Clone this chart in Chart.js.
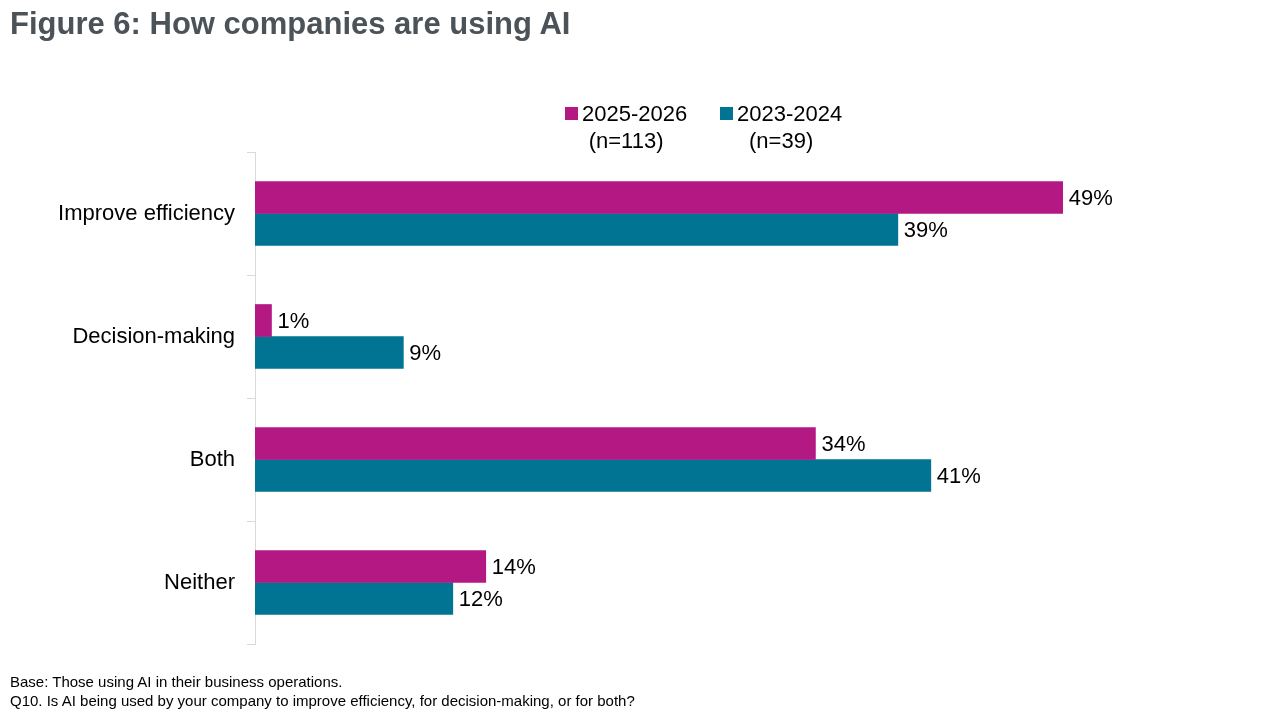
<!DOCTYPE html>
<html>
<head>
<meta charset="utf-8">
<script src="https://cdn.jsdelivr.net/npm/chart.js@4/dist/chart.umd.min.js"></script>
<style>
  body { margin: 0; width: 1280px; height: 720px; background: #fff; font-family: "Liberation Sans", Arial, sans-serif; position: relative; overflow: hidden; }
  #title { position: absolute; left: 10px; top: 6px; font-size: 31px; font-weight: bold; color: #4b5359; }
  #wrap { position: absolute; left: 0; top: 0; width: 1280px; height: 720px; }
  .leg { position: absolute; top: 100px; font-size: 22px; color: #000; text-align: center; line-height: 27px; }
  .leg i { display: inline-block; width: 13px; height: 13px; margin-right: 4px; vertical-align: 1px; }
  .foot { position: absolute; left: 10px; font-size: 15px; color: #000; }
</style>
</head>
<body>
<div id="wrap"><canvas id="chart" width="1280" height="720"></canvas></div>
<div id="title">Figure 6: How companies are using AI</div>
<div class="leg" style="left:565px"><i style="background:#b41883"></i>2025-2026<br>(n=113)</div>
<div class="leg" style="left:720px"><i style="background:#007492"></i>2023-2024<br>(n=39)</div>
<div class="foot" style="top:673px">Base: Those using AI in their business operations.</div>
<div class="foot" style="top:692px">Q10. Is AI being used by your company to improve efficiency, for decision-making, or for both?</div>
<script>
const categories = ['Improve efficiency', 'Decision-making', 'Both', 'Neither'];
const series2025 = [49, 1, 34, 14];
const series2023 = [39, 9, 41, 12];

const barLabels = {
  id: 'barLabels',
  afterDatasetsDraw(chart) {
    const ctx = chart.ctx;
    ctx.save();
    ctx.font = '22px "Liberation Sans", Arial, sans-serif';
    ctx.fillStyle = '#000';
    ctx.textBaseline = 'middle';
    chart.data.datasets.forEach((ds, i) => {
      chart.getDatasetMeta(i).data.forEach((bar, j) => {
        ctx.fillText(ds.data[j] + '%', bar.x + 6, bar.y + 1);
      });
    });
    ctx.restore();
  }
};

new Chart(document.getElementById('chart'), {
  type: 'bar',
  data: {
    labels: categories,
    datasets: [
      { label: '2025-2026 (n=113)', data: series2025, backgroundColor: '#b41883' },
      { label: '2023-2024 (n=39)', data: series2023, backgroundColor: '#007492' }
    ]
  },
  options: {
    indexAxis: 'y',
    responsive: false,
    animation: false,
    barThickness: 32,
    categoryPercentage: 0.585,
    layout: { padding: { top: 152, bottom: 76, right: 36, left: 0 } },
    plugins: { legend: { display: false }, tooltip: { enabled: false } },
    scales: {
      x: { display: false, min: 0, max: 60 },
      y: {
        afterFit: (scale) => { scale.width = 255; },
        grid: { offset: true, drawOnChartArea: false, tickLength: 8, color: '#d9d9d9' },
        border: { color: '#d9d9d9' },
        ticks: { color: '#000', font: { size: 22, family: '"Liberation Sans", Arial, sans-serif' }, padding: 12 }
      }
    }
  },
  plugins: [barLabels]
});
</script>
</body>
</html>
